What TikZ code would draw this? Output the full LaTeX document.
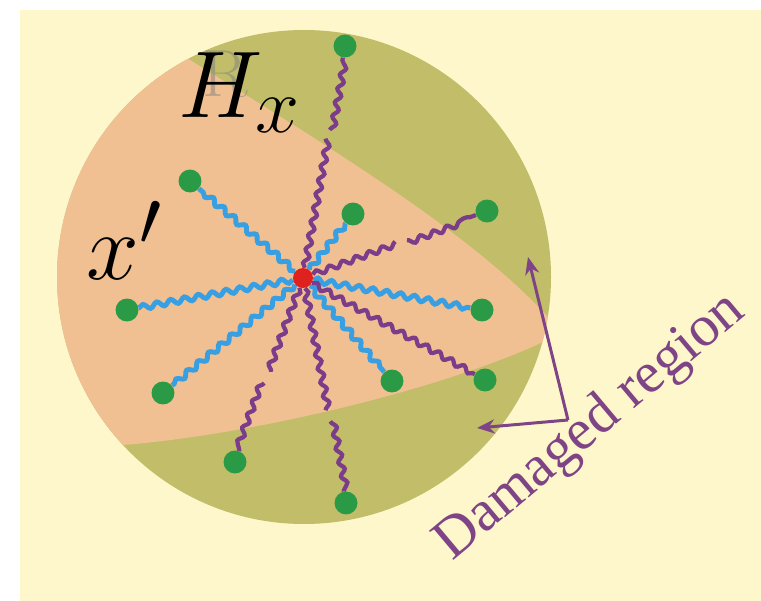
\documentclass[tikz,border=0pt]{standalone}
\usepackage{amsmath}
\usepackage{fontspec}
\usetikzlibrary{arrows.meta,calc,decorations.pathmorphing}
\newfontfamily\labelfont{Liberation Serif}
\definecolor{paper}{HTML}{FEF7CB}
\definecolor{peach}{HTML}{F1C092}
\definecolor{olive}{HTML}{C2BD68}
\definecolor{leaf}{HTML}{2B9A46}
\definecolor{sky}{HTML}{38A0E2}
\definecolor{plum}{HTML}{7B3C8A}
\definecolor{note}{HTML}{7E4485}
\definecolor{core}{HTML}{E0221F}
\pgfdeclarelayer{bg}
\pgfdeclarelayer{mid}
\pgfsetlayers{bg,mid,main}

\begin{document}
\begin{tikzpicture}[x=0.02cm,y=-0.02cm,
  gdot/.style={circle,fill=leaf,inner sep=0pt,minimum size=0.46cm},
  rdot/.style={circle,fill=core,inner sep=0pt,minimum size=0.4cm},
  bluewave/.style={draw=sky,line width=2.8pt,decorate,
    decoration={snake,amplitude=1.5pt,segment length=8pt}},
  plumwave/.style={draw=plum,line width=2.4pt,decorate,
    decoration={snake,amplitude=1.5pt,segment length=8pt}},
  bigmath/.style={font=\Huge,scale=2.17,inner sep=0pt}]
\useasboundingbox (0,0) rectangle (761,601);

% disc with the damaged parts
\begin{pgfonlayer}{bg}
\fill[white] (0,0) rectangle (761,601);
\fill[paper] (20,10) rectangle (761,601);
\fill[olive] (304,277) circle[radius=247];
\begin{scope}
\clip (304,277) circle[radius=247];
\fill[peach] (150,35) -- (187,58) .. controls (330,148) and (470,232) .. (548,317)
  -- (610,330) -- (543,342) .. controls (440,390) and (250,435) .. (123,445)
  -- (30,460) -- (30,20) -- cycle;
\end{scope}
\end{pgfonlayer}

\node[text=gray,opacity=0.5,font=\fontsize{38}{40}\selectfont,inner sep=0pt,anchor=base west] (ghost) at (202,97) {R};
\node[bigmath,anchor=base west] (hx) at (178,118) {$H_x$};
\node[bigmath,anchor=base west] (xp) at (86,280) {$x'$};

\node[rdot] (c) at (303,278) {};
\node[gdot] (b1) at (190,181) {};
\node[gdot] (b2) at (353,214) {};
\node[gdot] (b3) at (127,310) {};
\node[gdot] (b4) at (482,310) {};
\node[gdot] (b5) at (163,393) {};
\node[gdot] (b6) at (392,381) {};
\node[gdot] (p1) at (345,46) {};
\node[gdot] (p2) at (487,211) {};
\node[gdot] (p3) at (485,380) {};
\node[gdot] (p4) at (235,462) {};
\node[gdot] (p5) at (346,503) {};

\begin{pgfonlayer}{mid}
\foreach \b in {b1,b2,b3,b4,b5,b6}
  \draw[bluewave] (c) -- (\b);
\draw[plumwave] (c) -- ($(c)!.586!(p1)$) ($(c)!.638!(p1)$) -- (p1);
\draw[plumwave] (c) -- ($(c)!.473!(p2)$) ($(c)!.565!(p2)$) -- (p2);
\draw[plumwave] (c) -- (p3);
\draw[plumwave] (c) -- ($(c)!.484!(p4)$) ($(c)!.571!(p4)$) -- (p4);
\draw[plumwave] (c) -- ($(c)!.571!(p5)$) ($(c)!.637!(p5)$) -- (p5);
\end{pgfonlayer}

% label and pointers
\node[text=note,font=\labelfont\fontsize{33}{40}\selectfont,rotate=40,anchor=base west,inner sep=0pt] (dmg) at (452,562) {Damaged region};
\coordinate (bend) at (568,420);
\coordinate (tipup) at (528,257);
\coordinate (tipleft) at (477,428);
\draw[note,line width=1.7pt,-{Stealth[length=10pt,width=8pt]}] (bend) -- (tipup);
\draw[note,line width=1.7pt,-{Stealth[length=10pt,width=8pt]}] (bend) -- (tipleft);
\end{tikzpicture}
\end{document}
